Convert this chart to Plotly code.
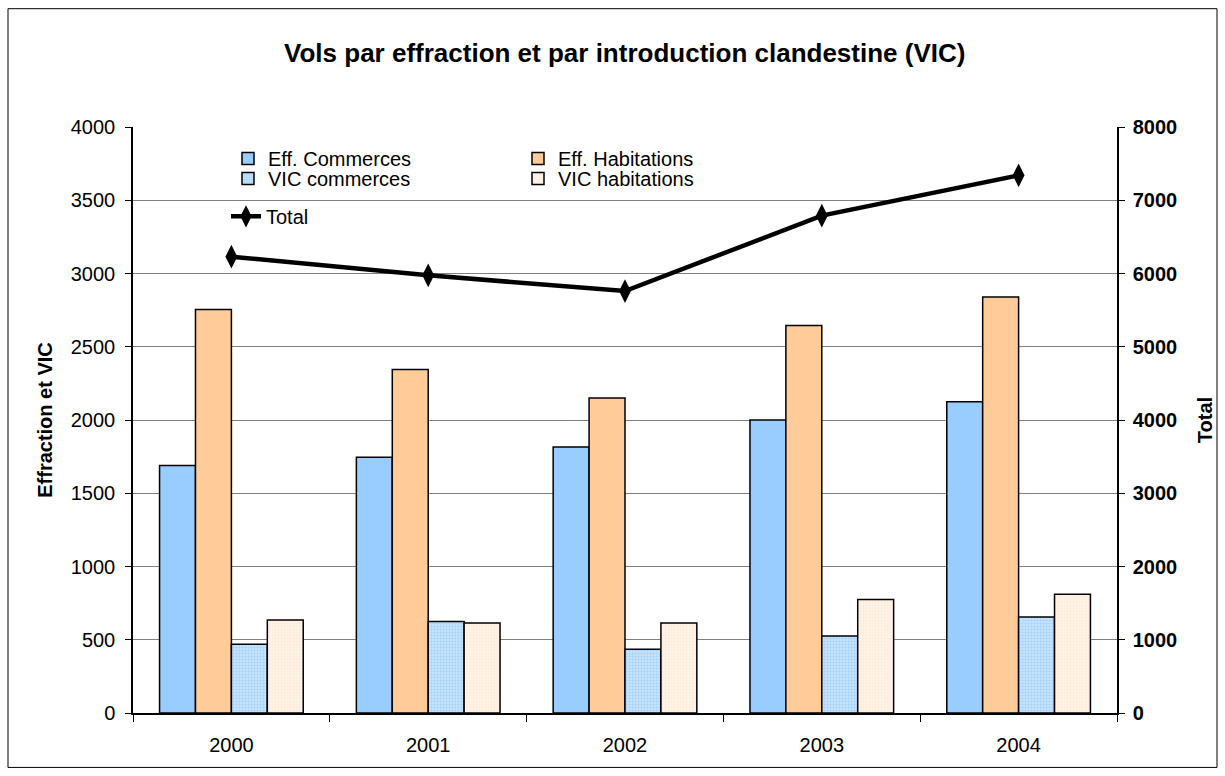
import plotly.graph_objects as go

years = ["2000", "2001", "2002", "2003", "2004"]
eff_commerces = [1690, 1745, 1815, 2000, 2125]
eff_habitations = [2755, 2345, 2150, 2645, 2840]
vic_commerces = [470, 625, 435, 525, 655]
vic_habitations = [635, 615, 615, 775, 810]
total = [6230, 5975, 5760, 6790, 7340]

FONT = "Liberation Sans, Arial, sans-serif"
W, H = 1225, 776
L, R, T, B = 133, 1117, 126.5, 713.5
pw, ph = R - L, B - T

def px(x):
    return (x - L) / pw

def py(y):
    return (B - y) / ph

outline = dict(color="black", width=1.5)
fig = go.Figure()
fig.add_trace(go.Bar(x=years, y=eff_commerces, name="Eff. Commerces",
                     marker=dict(color="#99CCFF", line=outline), legend="legend"))
fig.add_trace(go.Bar(x=years, y=eff_habitations, name="Eff. Habitations",
                     marker=dict(color="#FFCC99", line=outline), legend="legend3"))
fig.add_trace(go.Bar(x=years, y=vic_commerces, name="VIC commerces",
                     marker=dict(color="#B5DAFF", line=outline,
                                 pattern=dict(shape=".", fgcolor="#7FBFFF", bgcolor="#CFE7FF",
                                              size=3, solidity=0.5)),
                     legend="legend2"))
fig.add_trace(go.Bar(x=years, y=vic_habitations, name="VIC habitations",
                     marker=dict(color="#FFF0E0", line=outline,
                                 pattern=dict(shape=".", fgcolor="#FFDDC0", bgcolor="#FFF4EA",
                                              size=3, solidity=0.4)),
                     legend="legend4"))
fig.add_trace(go.Scatter(x=years, y=total, name="Total", yaxis="y2", mode="lines+markers",
                         line=dict(color="black", width=4.5),
                         marker=dict(symbol="diamond-tall", size=17, color="black"),
                         legend="legend5"))

leg_font = dict(family=FONT, size=20, color="black")
def leg(x, y):
    return dict(x=px(x), y=py(y), xanchor="left", yanchor="middle", xref="paper", yref="paper",
                bgcolor="rgba(0,0,0,0)", font=leg_font, borderwidth=0)

fig.update_layout(
    width=W, height=H,
    margin=dict(l=L, r=W - R, t=T, b=H - B),
    paper_bgcolor="white", plot_bgcolor="white",
    font=dict(family=FONT, size=20, color="black"),
    title=dict(text="<b>Vols par effraction et par introduction clandestine (VIC)</b>",
               x=0.51, xanchor="center", y=1 - 53 / H, yanchor="middle",
               font=dict(family=FONT, size=26, color="black")),
    barmode="group", bargap=0.27, bargroupgap=0,
    xaxis=dict(showline=True, linecolor="black", linewidth=1.5, ticks="outside",
               tickson="boundaries", ticklen=7, tickcolor="black", showgrid=False,
               ticklabelstandoff=13,
               tickfont=dict(family=FONT, size=20)),
    yaxis=dict(range=[0, 4000], dtick=500, showline=True, linecolor="black", linewidth=1.5,
               ticks="outside", ticklen=6, tickcolor="black", showgrid=True,
               gridcolor="#808080", gridwidth=1, zeroline=False,
               ticklabelstandoff=6,
               tickfont=dict(family=FONT, size=20),
               title=dict(text="<b>Effraction et VIC</b>", standoff=13,
                          font=dict(family=FONT, size=20))),
    yaxis2=dict(range=[0, 8000], dtick=1000, overlaying="y", side="right", showline=True,
                linecolor="black", linewidth=1.5, ticks="outside", ticklen=6, tickcolor="black",
                showgrid=False, zeroline=False, ticklabelstandoff=4,
                tickfont=dict(family=FONT, size=20), tickprefix="<b>", ticksuffix="</b>",
                title=dict(text="<b>Total</b>", standoff=22,
                           font=dict(family=FONT, size=20))),
    legend=leg(228, 158),
    legend2=leg(228, 178),
    legend3=leg(518, 158),
    legend4=leg(518, 178),
    legend5=leg(226, 216),
    showlegend=True,
    shapes=[
        dict(type="rect", xref="paper", yref="paper", x0=px(192), x1=px(767),
             y0=py(235), y1=py(134), fillcolor="white", line=dict(width=0), layer="between"),
        dict(type="rect", xref="paper", yref="paper", x0=px(8), x1=px(1217),
             y0=py(768), y1=py(8), fillcolor="rgba(0,0,0,0)",
             line=dict(color="black", width=1), layer="above"),
    ],
)

fig.write_html("out.html", config={"displayModeBar": False},
               post_script="document.body.style.margin='0';")
